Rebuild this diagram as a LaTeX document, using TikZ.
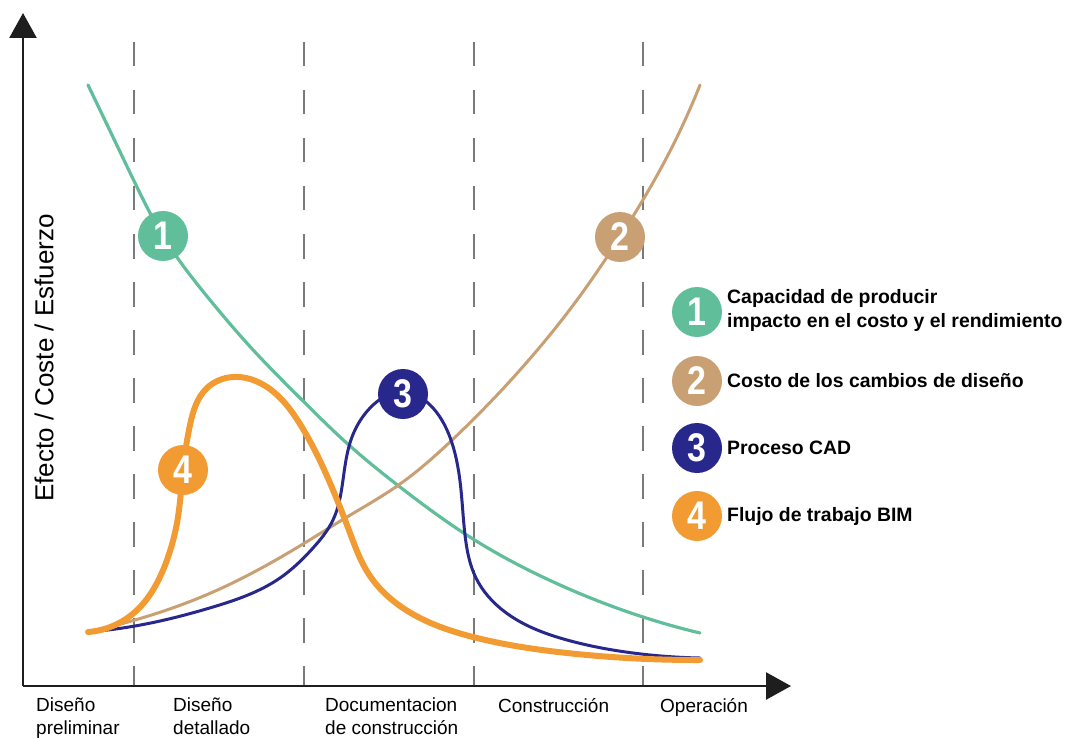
\documentclass[tikz,border=0pt]{standalone}
\usepackage{fontspec}
\setmainfont{Liberation Sans}
\usetikzlibrary{arrows.meta,hobby}
\definecolor{cgreen}{HTML}{60BE9B}
\definecolor{ctan}{HTML}{C8A073}
\definecolor{cnavy}{HTML}{28288C}
\definecolor{corange}{HTML}{F29B32}
\definecolor{cgray}{HTML}{7A7A7A}
\definecolor{caxis}{HTML}{1E1E1E}
\newcommand{\dg}[1]{\scalebox{0.85}[1]{#1}}
\tikzset{
  axisline/.style={line width=2.5pt, draw=caxis, -{Triangle[length=25pt,width=27pt]}},
  phase/.style={line width=2.6pt, draw=cgray, dash pattern=on 24.5pt off 23.5pt},
  curve/.style={line width=3.2pt, line cap=round, line join=round, use Hobby shortcut},
  numdot/.style={circle, minimum size=50pt, inner sep=0pt, text=white,
     font=\fontsize{40}{40}\selectfont\bfseries},
  legtext/.style={anchor=west, inner sep=0pt, align=left,
     font=\fontsize{19.4}{24}\selectfont\bfseries},
  cat/.style={anchor=north west, inner sep=0pt, align=left,
     font=\fontsize{19}{23}\selectfont}
}
\begin{document}
\begin{tikzpicture}[x=1pt,y=-1pt]
\useasboundingbox (0,0) rectangle (1065,738);
% phase separators
\foreach \px/\nm in {134/a,304/b,474/c,643/d}{
  \coordinate (t\nm) at (\px,42);
  \coordinate (b\nm) at (\px,686);
  \draw[phase] (t\nm) -- (b\nm);
}
% axes
\coordinate (o) at (23,686);
\coordinate (ytip) at (23,13);
\coordinate (xtip) at (791,686);
\draw[axisline] (o) -- (ytip);
\draw[axisline] (o) -- (xtip);
\node[rotate=90, inner sep=0pt, font=\fontsize{26}{26}\selectfont] (ylab) at (44,358) {Efecto / Coste / Esfuerzo};
% category labels
\node[cat] (c1) at (36,698) {Diseño\\preliminar};
\node[cat] (c2) at (173,698) {Diseño\\detallado};
\node[cat] (c3) at (325,698) {Documentacion\\de construcción};
\node[cat] (c4) at (498,698) {Construcción};
\node[cat] (c5) at (660,698) {Operación};
% curves
\draw[curve, cgreen] (88,85) .. (112,135) .. (135,183) .. (163,236) .. (210,300) .. (255,352) .. (300,398) .. (350,446) .. (400,487) .. (473,539) .. (560,585) .. (643,617) .. (700,633);
\draw[curve, ctan, line width=3pt] (88,632) .. (135,620) .. (213,592) .. (303,544) .. (347,517) .. (400,484) .. (450,442) .. (520,370) .. (577,300) .. (620,237) .. (668,155) .. (700,85);
\draw[curve, cnavy, line width=3pt] (88,632) .. (135,626) .. (213,607) .. (280,578) .. (313,548) .. (333,520) .. (343,480) .. (352,437) .. (370,408) .. (403,392) .. (433,408) .. (452,443) .. (461,490) .. (465,535) .. (476,578) .. (505,612) .. (567,640) .. (633,653) .. (700,658);
\draw[curve, corange, line width=6pt] (88,632) .. (135,612) .. (153,590) .. (167,560) .. (177,523) .. (183,470) .. (190,425) .. (207,388) .. (233,377) .. (267,387) .. (300,424) .. (333,490) .. (350,533) .. (368,573) .. (400,606) .. (473,637) .. (567,653) .. (700,660);
% number dots on curves
\node[numdot, fill=cgreen] (n1) at (163,236) {\dg{1}};
\node[numdot, fill=ctan] (n2) at (620,237) {\dg{2}};
\node[numdot, fill=cnavy] (n3) at (403,394) {\dg{3}};
\node[numdot, fill=corange] (n4) at (183,470) {\dg{4}};
% legend
\node[numdot, fill=cgreen] (l1) at (697,312) {\dg{1}};
\node[numdot, fill=ctan] (l2) at (697,381) {\dg{2}};
\node[numdot, fill=cnavy] (l3) at (697,448) {\dg{3}};
\node[numdot, fill=corange] (l4) at (697,516) {\dg{4}};
\node[legtext] (t1) at (727,310) {Capacidad de producir\\impacto en el costo y el rendimiento};
\node[legtext] (t2) at (727,381) {Costo de los cambios de diseño};
\node[legtext] (t3) at (727,448) {Proceso CAD};
\node[legtext] (t4) at (727,516) {Flujo de trabajo BIM};
\end{tikzpicture}
\end{document}
